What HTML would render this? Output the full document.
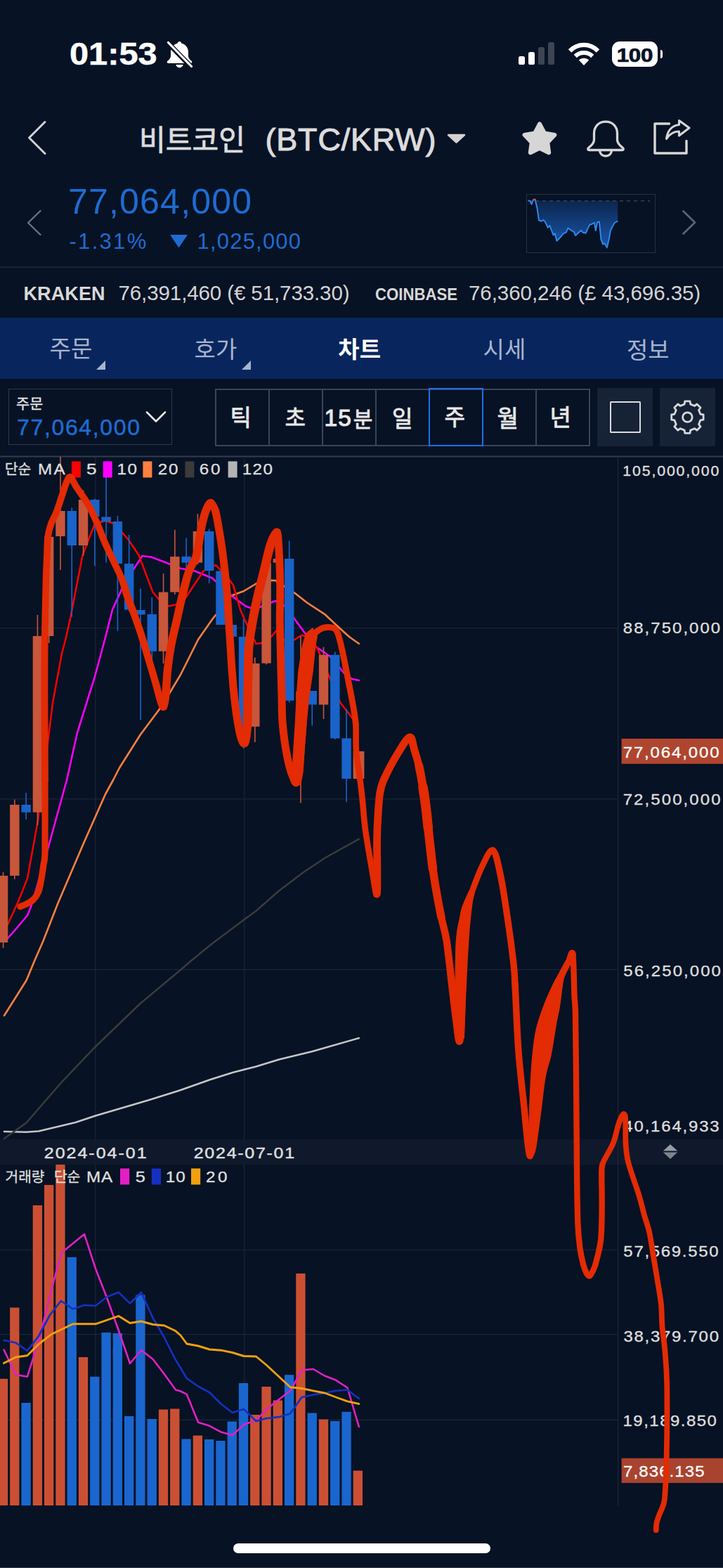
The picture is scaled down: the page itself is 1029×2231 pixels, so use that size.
<!DOCTYPE html><html><head><meta charset="utf-8"><title>BTC/KRW</title><style>

html,body{margin:0;padding:0;background:#071224;}
body{width:1029px;height:2231px;position:relative;overflow:hidden;font-family:"Liberation Sans",sans-serif;color:#ddd;}
.a{position:absolute;white-space:nowrap;line-height:1;}
.kr{position:absolute;overflow:visible;}
.kr text{font-family:"Liberation Sans","Noto Sans CJK KR",sans-serif;}
svg{display:block}

</style></head><body>
<div class="a" id="time" style="left:99.3px;top:54.5px;font-size:44.5px;font-weight:bold;color:#fff;letter-spacing:0px;transform:scaleX(1.095);transform-origin:0 0;-webkit-text-stroke:0.5px #fff">01:53</div>
<svg class="a" style="left:234px;top:56px" width="44" height="44" viewBox="0 0 44 44">
<path fill="#fff" d="M21.500 3c-1.500 0-2.600 1-2.800 2.400C13 7 9 11.800 9 18v6c0 2.500-2 4.600-4.600 6.800c-1.300 1.200-.6 3.200 1.200 3.200h31.800c1.800 0 2.500-2 1.200-3.200C36 28.600 34 26.500 34 24v-6c0-6.200-4-11-9.700-12.600C24.100 4 23 3 21.500 3zM16.300 36c.6 2.500 2.600 4.200 5.200 4.200s4.600-1.700 5.200-4.200z"/>
<path stroke="#071224" stroke-width="7" stroke-linecap="round" d="M5 5L38 39"/>
<path stroke="#fff" stroke-width="3.2" stroke-linecap="round" d="M5.500 4.500L38.500 38.500"/>
</svg>
<div class="a" style="left:738.0px;top:79.6px;width:9.4px;height:12.8px;background:#fff;border-radius:2.6px"></div>
<div class="a" style="left:751.8px;top:73.6px;width:9.4px;height:18.8px;background:#fff;border-radius:2.6px"></div>
<div class="a" style="left:765.9px;top:66.9px;width:9.4px;height:25.5px;background:#3d4554;border-radius:2.6px"></div>
<div class="a" style="left:779.8px;top:60.2px;width:9.4px;height:32.2px;background:#3d4554;border-radius:2.6px"></div>
<svg class="a" style="left:808px;top:59px" width="46" height="36" viewBox="0 0 46 36">
<path fill="none" stroke="#fff" stroke-width="6.2" d="M3 13.500C14 2 32 2 43 13.500"/>
<path fill="none" stroke="#fff" stroke-width="6" d="M10.800 21C17.500 14.400 28.500 14.400 35.200 21"/>
<path fill="#fff" d="M23 34L15.800 26.500C19.800 22.800 26.200 22.800 30.200 26.500z"/>
</svg>
<div class="a" style="left:871.4px;top:58.9px;width:64.8px;height:36.4px;background:#fff;border-radius:11px"></div>
<div class="a" style="left:939.500px;top:71.4px;width:3.6px;height:11.5px;background:#fff;border-radius:0 3px 3px 0"></div>
<div class="a" id="batt" style="left:871.4px;top:63.5px;width:64.8px;text-align:center;font-size:28.5px;font-weight:bold;color:#071224;letter-spacing:-0.3px;transform:scaleX(1.1);-webkit-text-stroke:0.7px #071224">100</div>
<svg class="a" style="left:36px;top:168px" width="34" height="56" viewBox="0 0 34 56"><path fill="none" stroke="#d2d2d2" stroke-width="3" stroke-linecap="round" stroke-linejoin="round" d="M28 5.500L5.500 28L28 50.500"/></svg>
<svg class="kr" style="left:203.1px;top:176.5px;width:156.7px;height:41.3px"><text x="-5" y="37.3" font-size="41" fill="#dcdcdc" stroke="#dcdcdc" stroke-width="0.8">비트코인</text></svg>
<div class="a" id="pair" style="left:377.5px;top:176.4px;font-size:45px;color:#dcdcdc;letter-spacing:0.8px;-webkit-text-stroke:1.0px #dcdcdc">(BTC/KRW)</div>
<svg class="a" style="left:635px;top:189px" width="29" height="17" viewBox="0 0 29 17"><path fill="#d2d2d2" stroke="#d2d2d2" stroke-width="2.5" stroke-linejoin="round" d="M3 3L26 3L14.500 13.500z"/></svg>
<svg class="a" style="left:739px;top:168px" width="58" height="57" viewBox="0 0 58 57"><path fill="#d6d6d6" stroke="#d6d6d6" stroke-width="6" stroke-linejoin="round" d="M29.0 8.5L35.9 21.5L50.4 24.0L40.2 34.6L42.2 49.2L29.0 42.8L15.8 49.2L17.8 34.6L7.6 24.0L22.1 21.5z"/></svg>
<svg class="a" style="left:833px;top:169px" width="58" height="57" viewBox="0 0 58 57"><path fill="none" stroke="#d6d6d6" stroke-width="3.3" stroke-linejoin="round" stroke-linecap="round" d="M29 4.200C19 4.200 12.500 11 12.500 21V30C12.500 34 9 38 4.500 41.500C3 43 3.800 44.500 5.500 44.500H52.500C54.200 44.500 55 43 53.500 41.500C49 38 45.500 34 45.500 30V21C45.500 11 39 4.200 29 4.200zM20.500 45.500C21 50 24.500 53 29 53S37 50 37.500 45.500"/></svg>
<svg class="a" style="left:928px;top:168px" width="58" height="54" viewBox="0 0 58 54"><path fill="none" stroke="#d6d6d6" stroke-width="3.4" stroke-linejoin="round" stroke-linecap="round" d="M24.500 8H4V50H49V32.500"/><path fill="none" stroke="#d6d6d6" stroke-width="3.1" stroke-linejoin="round" d="M38.500 3.500L53 14L38.500 25V19C30 19 25 22.500 20.500 29.500C22 18 28.500 10.500 38.500 9.500z"/></svg>
<svg class="a" style="left:35px;top:296px" width="28" height="42" viewBox="0 0 28 42"><path fill="none" stroke="#6b7383" stroke-width="2.400" stroke-linecap="round" stroke-linejoin="round" d="M22.500 4L5 21L22.500 38"/></svg>
<div class="a" id="price" style="left:97px;top:261.5px;font-size:50px;color:#1e6cd2;letter-spacing:1.2px">77,064,000</div>
<div class="a" id="pct" style="left:98.500px;top:327.5px;font-size:31px;color:#1e6cd2;letter-spacing:2.3px">-1.31%</div>
<svg class="a" style="left:241px;top:333px" width="27" height="20" viewBox="0 0 27 20"><path fill="#1e6cd2" d="M1 1H26L13.500 19.500z"/></svg>
<div class="a" id="chg" style="left:280.500px;top:327.5px;font-size:31px;color:#1e6cd2;letter-spacing:1.2px">1,025,000</div>
<svg class="a" style="left:967px;top:296px" width="28" height="42" viewBox="0 0 28 42"><path fill="none" stroke="#5d6676" stroke-width="2.600" stroke-linecap="round" stroke-linejoin="round" d="M5.500 4.500L22 20.500L5.500 36.500"/></svg>
<div class="a" style="left:749.3px;top:276.2px;width:181.500px;height:82px;border:1px solid #263145"></div>
<svg class="a" style="left:749.3px;top:276.2px" width="183" height="84" viewBox="0 0 183 84"><defs><linearGradient id="mg" x1="0" y1="0" x2="0" y2="1"><stop offset="0" stop-color="#0b244b"/><stop offset="1" stop-color="#1a58ad"/></linearGradient></defs>
<polygon fill="url(#mg)" points="2.5,9.8 2.5,9.3 5.3,9.9 7.6,14.6 9.8,8.5 12.6,7.9 15.4,19.7 17.9,37.1 21.0,38.8 24.4,37.1 26.7,39.4 30.6,47.8 33.4,45.0 38.5,58.5 40.7,56.2 43.5,66.9 48.3,61.8 53.1,56.2 56.7,54.8 59.5,48.4 64.3,52.0 67.9,54.0 70.2,59.0 73.6,55.7 77.8,52.0 80.6,54.8 84.8,55.7 87.6,49.2 90.4,43.6 93.2,43.0 96.9,40.8 98.8,52.0 101.1,40.2 103.9,39.4 106.4,64.6 109.2,71.7 111.5,70.3 114.9,76.4 117.7,64.6 119.9,52.0 122.7,46.4 125.5,41.3 130.3,38.5 130.3,9.8"/>
<line x1="3" y1="9.8" x2="176" y2="9.8" stroke="#3e4a5e" stroke-width="1.200" stroke-dasharray="5 5"/>
<polyline fill="none" stroke="#2f8af0" stroke-width="1.900" stroke-linejoin="round" points="2.5,9.3 5.3,9.9 7.6,14.6 9.8,8.5 12.6,7.9 15.4,19.7 17.9,37.1 21.0,38.8 24.4,37.1 26.7,39.4 30.6,47.8 33.4,45.0 38.5,58.5 40.7,56.2 43.5,66.9 48.3,61.8 53.1,56.2 56.7,54.8 59.5,48.4 64.3,52.0 67.9,54.0 70.2,59.0 73.6,55.7 77.8,52.0 80.6,54.8 84.8,55.7 87.6,49.2 90.4,43.6 93.2,43.0 96.9,40.8 98.8,52.0 101.1,40.2 103.9,39.4 106.4,64.6 109.2,71.7 111.5,70.3 114.9,76.4 117.7,64.6 119.9,52.0 122.7,46.4 125.5,41.3 130.3,38.5"/>
<rect x="9.6" y="6.7" width="4" height="2.400" fill="#e04040"/>
</svg>
<div class="a" style="left:0;top:379.3px;width:1029px;height:2px;background:#1a2434"></div>
<div class="a" id="krk" style="left:33.500px;top:405.2px;font-size:27px;font-weight:bold;color:#d8d8d8;letter-spacing:0.1px">KRAKEN</div>
<div class="a" id="krkv" style="left:168.500px;top:401.6px;font-size:29.5px;color:#d4d4d4;letter-spacing:-0.1px">76,391,460 (€ 51,733.30)</div>
<div class="a" id="cb" style="left:533.500px;top:406.5px;font-size:24.5px;font-weight:bold;color:#d8d8d8;transform:scaleX(0.905);transform-origin:0 0">COINBASE</div>
<div class="a" id="cbv" style="left:667px;top:401.6px;font-size:29.5px;color:#d4d4d4;letter-spacing:-0.05px">76,360,246 (£ 43,696.35)</div>
<div class="a" style="left:0;top:452px;width:1029px;height:87px;background:#08265d"></div>
<svg class="kr" style="left:71.7px;top:480.0px;width:61.6px;height:31.5px"><text x="-1.4" y="28.2" font-size="33" fill="#a9b4cd">주문</text></svg>
<svg class="kr" style="left:277.5px;top:479.5px;width:63.5px;height:32.5px"><text x="-1.4" y="29.3" font-size="33" fill="#a9b4cd">호가</text></svg>
<svg class="kr" style="left:482.5px;top:479.0px;width:63.5px;height:33.0px"><text x="-1.7" y="29.8" font-size="33" font-weight="bold" fill="#ffffff">차트</text></svg>
<svg class="kr" style="left:689.0px;top:479.5px;width:61.0px;height:32.5px"><text x="-1.4" y="29.3" font-size="33" fill="#a9b4cd">시세</text></svg>
<svg class="kr" style="left:894.0px;top:479.5px;width:62.500px;height:32.5px"><text x="-2" y="29.5" font-size="33" fill="#a9b4cd">정보</text></svg>
<svg class="a" style="left:137.3px;top:512.5px" width="13" height="13" viewBox="0 0 13 13"><path fill="#a9b4cd" d="M13 0V13H0z"/></svg>
<svg class="a" style="left:343.5px;top:512.5px" width="13" height="13" viewBox="0 0 13 13"><path fill="#a9b4cd" d="M13 0V13H0z"/></svg>
<div class="a" style="left:11.5px;top:552.5px;width:231.500px;height:78.500px;border:1.800px solid #2f394b"></div>
<svg class="kr" style="left:24.0px;top:564.0px;width:39.3px;height:20.0px"><text x="-0.9" y="17.9" font-size="20.7" fill="#e6e6e6" stroke="#e6e6e6" stroke-width="0.3">주문</text></svg>
<div class="a" id="ordp" style="left:24px;top:592px;font-size:32px;color:#1e6cd2;letter-spacing:1.65px;-webkit-text-stroke:0.5px #1e6cd2">77,064,000</div>
<svg class="a" style="left:205px;top:582px" width="34" height="22" viewBox="0 0 34 22"><path fill="none" stroke="#e6e6e6" stroke-width="2.600" stroke-linecap="round" stroke-linejoin="round" d="M4 4.500L17 17.500L30 4.500"/></svg>
<div class="a" style="left:305.5px;top:552.5px;width:530.500px;height:78px;border:2px solid #3b4557;box-sizing:content-box"></div>
<div class="a" style="left:381.6px;top:553px;width:2px;height:81px;background:#3b4557"></div>
<div class="a" style="left:457.8px;top:553px;width:2px;height:81px;background:#3b4557"></div>
<div class="a" style="left:534.0px;top:553px;width:2px;height:81px;background:#3b4557"></div>
<div class="a" style="left:610.1px;top:553px;width:2px;height:81px;background:#3b4557"></div>
<div class="a" style="left:686.2px;top:553px;width:2px;height:81px;background:#3b4557"></div>
<div class="a" style="left:762.4px;top:553px;width:2px;height:81px;background:#3b4557"></div>
<div class="a" style="left:609.5px;top:552px;width:74.500px;height:78.500px;border:2.300px solid #1b6ff0"></div>
<svg class="kr" style="left:331.7px;top:579.3px;width:25.6px;height:30.0px"><text x="-4.5" y="26.9" font-size="33" fill="#e8e8e8" stroke="#e8e8e8" stroke-width="0.8">틱</text></svg>
<svg class="kr" style="left:406.7px;top:579.3px;width:28.3px;height:27.4px"><text x="-1.4" y="27" font-size="32" fill="#e8e8e8" stroke="#e8e8e8" stroke-width="0.8">초</text></svg>
<div class="a" id="m15" style="left:461.5px;top:577.5px;font-size:33.5px;color:#e8e8e8;letter-spacing:1.2px;-webkit-text-stroke:1.1px #e8e8e8">15</div>
<svg class="kr" style="left:504.0px;top:580.0px;width:26.0px;height:29.3px"><text x="-1.3" y="27.2" font-size="30" fill="#e8e8e8" stroke="#e8e8e8" stroke-width="0.8">분</text></svg>
<svg class="kr" style="left:560.7px;top:579.3px;width:25.3px;height:30.0px"><text x="-3.1" y="27.5" font-size="32" fill="#e8e8e8" stroke="#e8e8e8" stroke-width="0.8">일</text></svg>
<svg class="kr" style="left:633.5px;top:579.3px;width:29.5px;height:28.5px"><text x="-1.4" y="25.6" font-size="32" fill="#e8e8e8" stroke="#e8e8e8" stroke-width="0.8">주</text></svg>
<svg class="kr" style="left:710.0px;top:577.5px;width:28.0px;height:32.0px"><text x="-2.5" y="29.3" font-size="33" fill="#e8e8e8" stroke="#e8e8e8" stroke-width="0.8">월</text></svg>
<svg class="kr" style="left:787.0px;top:579.3px;width:27.0px;height:29.5px"><text x="-4.5" y="27.4" font-size="33" fill="#e8e8e8" stroke="#e8e8e8" stroke-width="0.8">년</text></svg>
<div class="a" style="left:850px;top:551.7px;width:78.700px;height:83.300px;background:#162236"></div>
<div class="a" style="left:867.5px;top:571px;width:40.500px;height:40.500px;border:2.400px solid #dcdcdc;border-radius:1.500px"></div>
<div class="a" style="left:939.3px;top:551.7px;width:78.400px;height:83.300px;background:#162236"></div>
<svg class="a" style="left:939.3px;top:551.7px" width="79" height="84" viewBox="0 0 79 84"><path fill="none" stroke="#d8d8d8" stroke-width="2.800" stroke-linejoin="round" d="M35.8 18.9L43.0 18.9L43.7 23.1L49.5 25.5L52.9 23.0L58.0 28.1L55.5 31.5L57.9 37.3L62.1 38.0L62.1 45.2L57.9 45.9L55.5 51.7L58.0 55.1L52.9 60.2L49.5 57.7L43.7 60.1L43.0 64.3L35.8 64.3L35.1 60.1L29.3 57.7L25.9 60.2L20.8 55.1L23.3 51.7L20.9 45.9L16.7 45.2L16.7 38.0L20.9 37.3L23.3 31.5L20.8 28.1L25.9 23.0L29.3 25.5L35.1 23.1z"/><circle cx="39.4" cy="41.6" r="6.8" fill="none" stroke="#d8d8d8" stroke-width="2.800"/></svg><svg class="a" style="left:0;top:0" width="1029" height="2231" viewBox="0 0 1029 2231" font-family="Liberation Sans, sans-serif">
<rect x="0" y="648.5" width="1029" height="2" fill="#333d4e"/>
<rect x="0" y="1620.7" width="1029" height="36.5" fill="#0f192b"/>
<rect x="0" y="893.1" width="879" height="1.3" fill="#1b2535"/>
<rect x="0" y="1136.2" width="879" height="1.3" fill="#1b2535"/>
<rect x="0" y="1378.9" width="879" height="1.3" fill="#1b2535"/>
<rect x="0" y="1777.6" width="879" height="1.3" fill="#1b2535"/>
<rect x="0" y="1897.9" width="879" height="1.3" fill="#1b2535"/>
<rect x="0" y="2019.7" width="879" height="1.3" fill="#1b2535"/>
<rect x="135.3" y="650" width="1.3" height="971" fill="#1b2535"/>
<rect x="135.3" y="1657" width="1.3" height="485" fill="#1b2535"/>
<rect x="347.1" y="650" width="1.3" height="971" fill="#1b2535"/>
<rect x="347.1" y="1657" width="1.3" height="485" fill="#1b2535"/>
<rect x="878.9" y="650" width="1.4" height="1492" fill="#1b2535"/>
<rect x="-2.15" y="1961.8" width="13.3" height="180.2" fill="#cb5033"/>
<rect x="14.14" y="1860.5" width="13.3" height="281.5" fill="#cb5033"/>
<rect x="30.42" y="1996.0" width="13.3" height="146.0" fill="#1a66cf"/>
<rect x="46.70" y="1715.0" width="13.3" height="427.0" fill="#cb5033"/>
<rect x="62.99" y="1686.0" width="13.3" height="456.0" fill="#cb5033"/>
<rect x="79.27" y="1657.0" width="13.3" height="485.0" fill="#cb5033"/>
<rect x="95.56" y="1788.8" width="13.3" height="353.2" fill="#1a66cf"/>
<rect x="111.84" y="1931.0" width="13.3" height="211.0" fill="#cb5033"/>
<rect x="128.13" y="1958.8" width="13.3" height="183.2" fill="#1a66cf"/>
<rect x="144.42" y="1896.0" width="13.3" height="246.0" fill="#1a66cf"/>
<rect x="160.70" y="1897.0" width="13.3" height="245.0" fill="#1a66cf"/>
<rect x="176.99" y="2015.0" width="13.3" height="127.0" fill="#1a66cf"/>
<rect x="193.27" y="1842.5" width="13.3" height="299.5" fill="#1a66cf"/>
<rect x="209.56" y="2019.0" width="13.3" height="123.0" fill="#1a66cf"/>
<rect x="225.84" y="2005.5" width="13.3" height="136.5" fill="#cb5033"/>
<rect x="242.13" y="2004.5" width="13.3" height="137.5" fill="#cb5033"/>
<rect x="258.41" y="2047.5" width="13.3" height="94.5" fill="#1a66cf"/>
<rect x="274.70" y="2042.5" width="13.3" height="99.5" fill="#cb5033"/>
<rect x="290.98" y="2048.0" width="13.3" height="94.0" fill="#1a66cf"/>
<rect x="307.27" y="2050.0" width="13.3" height="92.0" fill="#1a66cf"/>
<rect x="323.55" y="2022.5" width="13.3" height="119.5" fill="#1a66cf"/>
<rect x="339.84" y="1968.0" width="13.3" height="174.0" fill="#1a66cf"/>
<rect x="356.12" y="2013.0" width="13.3" height="129.0" fill="#cb5033"/>
<rect x="372.41" y="1973.0" width="13.3" height="169.0" fill="#cb5033"/>
<rect x="388.69" y="1992.5" width="13.3" height="149.5" fill="#cb5033"/>
<rect x="404.98" y="1956.2" width="13.3" height="185.8" fill="#1a66cf"/>
<rect x="421.26" y="1812.0" width="13.3" height="330.0" fill="#cb5033"/>
<rect x="437.55" y="2010.5" width="13.3" height="131.5" fill="#1a66cf"/>
<rect x="453.83" y="2019.5" width="13.3" height="122.5" fill="#cb5033"/>
<rect x="470.12" y="2022.0" width="13.3" height="120.0" fill="#1a66cf"/>
<rect x="486.40" y="2008.8" width="13.3" height="133.2" fill="#1a66cf"/>
<rect x="502.69" y="2092.5" width="13.3" height="49.5" fill="#cb5033"/>
<polyline fill="none" stroke="#c6c6c6" stroke-width="2.6" stroke-linejoin="round" stroke-linecap="round" points="6.0,1610.0 37.5,1610.8 55.0,1609.5 107.5,1597.0 136.0,1587.5 212.5,1565.0 257.0,1551.0 299.5,1536.0 332.0,1525.8 364.5,1517.5 397.0,1507.5 444.5,1496.0 510.8,1477.0"/>
<polyline fill="none" stroke="#3b3b3b" stroke-width="2.5" stroke-linejoin="round" stroke-linecap="round" points="6.0,1620.0 37.5,1597.5 87.5,1540.0 135.0,1490.0 200.0,1427.5 257.0,1380.0 272.0,1367.0 302.0,1342.5 347.0,1308.8 364.5,1296.0 397.0,1267.5 432.0,1241.0 462.0,1221.0 510.8,1193.8"/>
<polyline fill="none" stroke="#ff8040" stroke-width="2.6" stroke-linejoin="round" stroke-linecap="round" points="6.0,1445.0 37.5,1395.0 50.0,1365.0 61.0,1340.0 82.5,1285.0 120.0,1197.5 150.0,1130.0 161.0,1110.0 170.0,1092.5 200.0,1045.0 230.0,1005.0 257.0,960.0 282.0,910.0 303.0,880.0 329.5,847.5 347.0,841.0 367.0,829.0 387.0,825.8 392.0,826.0 419.5,843.8 437.0,857.5 462.0,873.8 482.0,892.5 497.0,906.0 510.8,915.8"/>
<polyline fill="none" stroke="#ff00ff" stroke-width="2.6" stroke-linejoin="round" stroke-linecap="round" points="9.0,1337.0 10.0,1336.0 20.0,1325.0 39.0,1302.5 45.0,1287.5 67.5,1210.0 95.0,1110.0 110.0,1042.5 135.0,962.5 150.0,907.0 160.0,867.5 172.5,840.0 190.0,810.0 202.5,791.0 215.0,792.5 235.0,800.0 257.0,808.8 277.0,812.5 302.0,822.5 329.5,847.5 349.5,862.5 362.0,867.0 392.0,855.0 405.0,862.0 419.5,881.0 437.0,905.0 449.5,920.0 469.5,933.8 489.5,957.5 500.8,966.0 510.8,968.0"/>
<polyline fill="none" stroke="#ff0000" stroke-width="2.5" stroke-linejoin="round" stroke-linecap="round" points="10.0,1317.0 11.0,1315.0 25.0,1285.0 39.0,1250.0 54.0,1167.5 60.0,1110.0 67.0,1065.0 75.0,1000.0 88.0,930.0 94.0,907.0 100.0,880.0 117.5,790.0 135.0,745.0 150.0,741.0 162.5,745.0 182.5,767.5 197.5,790.0 217.5,842.5 226.0,852.5 240.0,862.5 257.0,858.8 264.5,850.0 289.5,812.5 307.0,803.8 324.5,822.5 332.0,832.5 342.0,867.5 352.0,890.0 364.5,916.0 372.0,915.0 387.0,905.0 393.0,897.5 408.0,915.0 419.5,910.0 429.5,903.8 437.0,906.0 451.0,921.0 469.5,965.0 484.5,1000.0 502.0,1022.5"/>
<rect x="3.75" y="1241.0" width="1.6" height="108.0" fill="#c8563a"/>
<rect x="-2.15" y="1246.0" width="13.4" height="95.0" fill="#c8563a"/>
<rect x="20.04" y="1137.5" width="1.6" height="113.5" fill="#c8563a"/>
<rect x="14.14" y="1145.0" width="13.4" height="101.0" fill="#c8563a"/>
<rect x="36.32" y="1128.0" width="1.6" height="38.0" fill="#1963c9"/>
<rect x="30.42" y="1145.0" width="13.4" height="10.8" fill="#1963c9"/>
<rect x="52.61" y="875.0" width="1.6" height="299.0" fill="#c8563a"/>
<rect x="46.70" y="905.0" width="13.4" height="250.8" fill="#c8563a"/>
<rect x="68.89" y="745.0" width="1.6" height="170.0" fill="#c8563a"/>
<rect x="62.99" y="763.8" width="13.4" height="141.2" fill="#c8563a"/>
<rect x="85.17" y="650.0" width="1.6" height="161.0" fill="#c8563a"/>
<rect x="79.27" y="727.0" width="13.4" height="36.0" fill="#c8563a"/>
<rect x="101.46" y="722.5" width="1.6" height="155.0" fill="#1963c9"/>
<rect x="95.56" y="727.0" width="13.4" height="49.0" fill="#1963c9"/>
<rect x="117.75" y="697.5" width="1.6" height="93.5" fill="#c8563a"/>
<rect x="111.84" y="711.0" width="13.4" height="65.0" fill="#c8563a"/>
<rect x="134.03" y="709.5" width="1.6" height="96.0" fill="#1963c9"/>
<rect x="128.13" y="711.0" width="13.4" height="24.0" fill="#1963c9"/>
<rect x="150.31" y="675.0" width="1.6" height="125.5" fill="#1963c9"/>
<rect x="144.42" y="735.5" width="13.4" height="6.5" fill="#1963c9"/>
<rect x="166.60" y="733.8" width="1.6" height="163.8" fill="#1963c9"/>
<rect x="160.70" y="742.0" width="13.4" height="60.0" fill="#1963c9"/>
<rect x="182.88" y="761.0" width="1.6" height="109.0" fill="#1963c9"/>
<rect x="176.99" y="802.0" width="13.4" height="65.5" fill="#1963c9"/>
<rect x="199.17" y="837.5" width="1.6" height="187.0" fill="#1963c9"/>
<rect x="193.27" y="868.0" width="13.4" height="6.5" fill="#1963c9"/>
<rect x="215.46" y="850.0" width="1.6" height="94.0" fill="#1963c9"/>
<rect x="209.56" y="874.0" width="13.4" height="52.8" fill="#1963c9"/>
<rect x="231.74" y="816.0" width="1.6" height="128.0" fill="#c8563a"/>
<rect x="225.84" y="842.5" width="13.4" height="84.2" fill="#c8563a"/>
<rect x="248.03" y="753.8" width="1.6" height="92.2" fill="#c8563a"/>
<rect x="242.13" y="792.0" width="13.4" height="50.5" fill="#c8563a"/>
<rect x="264.31" y="765.5" width="1.6" height="47.0" fill="#1963c9"/>
<rect x="258.41" y="791.8" width="13.4" height="8.8" fill="#1963c9"/>
<rect x="280.60" y="731.0" width="1.6" height="72.0" fill="#c8563a"/>
<rect x="274.70" y="756.0" width="13.4" height="44.5" fill="#c8563a"/>
<rect x="296.88" y="752.5" width="1.6" height="77.5" fill="#1963c9"/>
<rect x="290.98" y="756.0" width="13.4" height="56.0" fill="#1963c9"/>
<rect x="313.17" y="812.0" width="1.6" height="77.0" fill="#1963c9"/>
<rect x="307.27" y="812.5" width="13.4" height="76.5" fill="#1963c9"/>
<rect x="329.45" y="883.8" width="1.6" height="22.2" fill="#1963c9"/>
<rect x="323.55" y="889.0" width="13.4" height="16.8" fill="#1963c9"/>
<rect x="345.74" y="881.0" width="1.6" height="184.0" fill="#1963c9"/>
<rect x="339.84" y="906.0" width="13.4" height="127.8" fill="#1963c9"/>
<rect x="362.02" y="935.5" width="1.6" height="120.5" fill="#c8563a"/>
<rect x="356.12" y="944.0" width="13.4" height="89.8" fill="#c8563a"/>
<rect x="378.31" y="800.0" width="1.6" height="145.5" fill="#c8563a"/>
<rect x="372.41" y="800.5" width="13.4" height="143.2" fill="#c8563a"/>
<rect x="394.59" y="795.0" width="1.6" height="5.5" fill="#c8563a"/>
<rect x="388.69" y="795.0" width="13.4" height="5.5" fill="#c8563a"/>
<rect x="410.88" y="769.5" width="1.6" height="230.0" fill="#1963c9"/>
<rect x="404.98" y="795.0" width="13.4" height="201.8" fill="#1963c9"/>
<rect x="427.16" y="905.0" width="1.6" height="237.5" fill="#c8563a"/>
<rect x="421.26" y="983.8" width="13.4" height="13.0" fill="#c8563a"/>
<rect x="443.44" y="983.0" width="1.6" height="49.5" fill="#1963c9"/>
<rect x="437.55" y="983.0" width="13.4" height="19.5" fill="#1963c9"/>
<rect x="459.73" y="920.5" width="1.6" height="102.5" fill="#c8563a"/>
<rect x="453.83" y="931.8" width="13.4" height="70.8" fill="#c8563a"/>
<rect x="476.01" y="927.5" width="1.6" height="124.5" fill="#1963c9"/>
<rect x="470.12" y="931.8" width="13.4" height="118.8" fill="#1963c9"/>
<rect x="492.30" y="1008.8" width="1.6" height="132.2" fill="#1963c9"/>
<rect x="486.40" y="1050.5" width="13.4" height="57.5" fill="#1963c9"/>
<rect x="502.6" y="1069" width="15.8" height="39" fill="#c8563a"/>
<polyline fill="none" stroke="#e21fc4" stroke-width="2.6" stroke-linejoin="round" stroke-linecap="round" points="5.5,1920.5 22.5,1956.0 38.8,1958.8 56.0,1905.0 72.5,1837.5 87.5,1782.5 120.0,1756.0 136.0,1805.0 152.5,1847.5 168.8,1893.0 185.0,1940.0 201.0,1921.0 217.5,1933.8 233.8,1955.0 250.0,1977.5 257.0,1979.5 265.8,1983.8 282.0,2023.8 298.2,2028.8 314.5,2037.5 330.8,2042.0 348.2,2026.2 364.5,2021.2 379.5,2005.0 397.0,1991.2 413.2,1978.8 429.5,1949.5 445.8,1948.0 462.0,1957.5 478.2,1963.8 494.5,1974.5 510.8,2030.0"/>
<polyline fill="none" stroke="#1530bf" stroke-width="2.7" stroke-linejoin="round" stroke-linecap="round" points="5.5,1907.0 22.5,1910.5 38.8,1921.8 55.0,1901.0 71.0,1871.0 86.8,1851.0 103.8,1862.5 120.0,1857.0 136.0,1858.0 152.5,1845.0 168.8,1838.8 185.0,1854.5 201.0,1838.8 217.5,1875.0 233.8,1903.0 250.0,1935.0 257.0,1946.2 265.8,1961.2 282.0,1972.5 298.2,1981.2 314.5,1997.5 330.8,2010.0 347.0,2005.0 364.5,2022.0 379.5,2018.0 397.0,2016.2 413.2,2011.2 429.5,1988.0 445.8,1984.5 462.0,1982.0 478.2,1978.8 494.5,1977.5 510.8,1990.0"/>
<polyline fill="none" stroke="#f0a010" stroke-width="2.9" stroke-linejoin="round" stroke-linecap="round" points="5.5,1939.5 22.5,1931.0 38.8,1928.8 55.0,1912.5 72.5,1898.8 103.8,1883.8 136.0,1883.8 168.8,1872.5 185.0,1882.5 201.0,1880.0 217.5,1884.5 233.8,1886.0 250.0,1893.8 257.0,1900.0 265.8,1912.0 282.0,1915.0 298.2,1920.0 314.5,1921.2 330.8,1924.5 347.0,1929.5 364.5,1930.0 379.5,1942.5 397.0,1958.8 413.2,1973.8 429.5,1975.5 445.8,1978.8 462.0,1982.0 478.2,1988.0 494.5,1993.8 510.8,1997.5"/>
<rect x="101.9" y="656.4" width="13" height="23.1" fill="#ff0000"/>
<rect x="146.7" y="656.4" width="13" height="23.1" fill="#ff00ff"/>
<rect x="203.4" y="656.4" width="13" height="23.1" fill="#ff8040"/>
<rect x="263.4" y="656.4" width="13" height="23.1" fill="#3b3b3b"/>
<rect x="324.6" y="656.4" width="13" height="23.1" fill="#b4b4b4"/>
<rect x="171.0" y="1662.5" width="13.2" height="23" fill="#e21fc4"/>
<rect x="215.8" y="1662.5" width="13.2" height="23" fill="#1530bf"/>
<rect x="272.0" y="1662.5" width="13.2" height="23" fill="#f0a010"/>
<text transform="translate(56.00 675.4) scale(1.100 1)" x="-1.80" y="0" font-size="22" letter-spacing="2.03" fill="#dedede" stroke="#dedede" stroke-width="0.35" font-weight="normal">MA</text>
<text transform="translate(124.10 675.4) scale(1.189 1)" x="-0.88" y="0" font-size="22" letter-spacing="0.00" fill="#dedede" stroke="#dedede" stroke-width="0.35" font-weight="normal">5</text>
<text transform="translate(168.40 675.4) scale(1.100 1)" x="-1.68" y="0" font-size="22" letter-spacing="1.34" fill="#dedede" stroke="#dedede" stroke-width="0.35" font-weight="normal">10</text>
<text transform="translate(226.00 675.4) scale(1.100 1)" x="-1.11" y="0" font-size="22" letter-spacing="1.50" fill="#dedede" stroke="#dedede" stroke-width="0.35" font-weight="normal">20</text>
<text transform="translate(285.00 675.4) scale(1.100 1)" x="-1.12" y="0" font-size="22" letter-spacing="2.51" fill="#dedede" stroke="#dedede" stroke-width="0.35" font-weight="normal">60</text>
<text transform="translate(346.50 675.4) scale(1.100 1)" x="-1.68" y="0" font-size="22" letter-spacing="1.32" fill="#dedede" stroke="#dedede" stroke-width="0.35" font-weight="normal">120</text>
<text transform="translate(125.00 1681.7) scale(1.100 1)" x="-1.80" y="0" font-size="22" letter-spacing="0.67" fill="#dedede" stroke="#dedede" stroke-width="0.35" font-weight="normal">MA</text>
<text transform="translate(193.75 1681.7) scale(1.155 1)" x="-0.88" y="0" font-size="22" letter-spacing="0.00" fill="#dedede" stroke="#dedede" stroke-width="0.35" font-weight="normal">5</text>
<text transform="translate(237.50 1681.7) scale(1.100 1)" x="-1.68" y="0" font-size="22" letter-spacing="1.06" fill="#dedede" stroke="#dedede" stroke-width="0.35" font-weight="normal">10</text>
<text transform="translate(294.30 1681.7) scale(1.100 1)" x="-1.11" y="0" font-size="22" letter-spacing="3.13" fill="#dedede" stroke="#dedede" stroke-width="0.35" font-weight="normal">20</text>
<text transform="translate(64.00 1648.0) scale(1.120 1)" x="-1.12" y="0" font-size="22.3" letter-spacing="1.81" fill="#dedede" stroke="#dedede" stroke-width="0.5" font-weight="normal">2024-04-01</text>
<text transform="translate(277.00 1648.0) scale(1.120 1)" x="-1.12" y="0" font-size="22.3" letter-spacing="1.56" fill="#dedede" stroke="#dedede" stroke-width="0.5" font-weight="normal">2024-07-01</text>
<text transform="translate(887.90 677.2) scale(1.080 1)" x="-1.51" y="0" font-size="19.8" letter-spacing="1.69" fill="#dedede" stroke="#dedede" stroke-width="0.35" font-weight="normal">105,000,000</text>
<text transform="translate(887.90 901.3) scale(1.120 1)" x="-0.93" y="0" font-size="21.4" letter-spacing="1.82" fill="#dedede" stroke="#dedede" stroke-width="0.35" font-weight="normal">88,750,000</text>
<text transform="translate(887.90 1145.0) scale(1.120 1)" x="-1.10" y="0" font-size="21.4" letter-spacing="1.87" fill="#dedede" stroke="#dedede" stroke-width="0.35" font-weight="normal">72,500,000</text>
<text transform="translate(888.20 1388.6) scale(1.120 1)" x="-0.86" y="0" font-size="21.4" letter-spacing="1.86" fill="#dedede" stroke="#dedede" stroke-width="0.35" font-weight="normal">56,250,000</text>
<text transform="translate(887.90 1610.4) scale(1.120 1)" x="-0.49" y="0" font-size="21.4" letter-spacing="1.62" fill="#dedede" stroke="#dedede" stroke-width="0.35" font-weight="normal">40,164,933</text>
<text transform="translate(888.30 1788.3) scale(1.120 1)" x="-0.86" y="0" font-size="21.4" letter-spacing="1.52" fill="#dedede" stroke="#dedede" stroke-width="0.35" font-weight="normal">57,569.550</text>
<text transform="translate(888.30 1908.6) scale(1.120 1)" x="-0.82" y="0" font-size="21.4" letter-spacing="1.55" fill="#dedede" stroke="#dedede" stroke-width="0.35" font-weight="normal">38,379.700</text>
<text transform="translate(888.30 2029.4) scale(1.120 1)" x="-1.63" y="0" font-size="21.4" letter-spacing="1.34" fill="#dedede" stroke="#dedede" stroke-width="0.35" font-weight="normal">19,189.850</text>
<rect x="884.6" y="1051" width="145" height="35.8" fill="#b0452f"/>
<text transform="translate(887.90 1077.6) scale(1.120 1)" x="-1.10" y="0" font-size="21.4" letter-spacing="1.67" fill="#ffffff" stroke="#ffffff" stroke-width="0.35" font-weight="normal">77,064,000</text>
<rect x="884.6" y="2074.8" width="145" height="35.2" fill="#a8432f"/>
<text transform="translate(888.30 2100.7) scale(1.120 1)" x="-1.10" y="0" font-size="21.4" letter-spacing="0.99" fill="#ffffff" stroke="#ffffff" stroke-width="0.35" font-weight="normal">7,836.135</text>
<path fill="#969ba6" d="M943.8 1637.4L954 1628.2L964.3 1637.4z"/><path fill="#7d838f" d="M943.8 1639.6L954 1649L964.3 1639.6z"/>
<path fill="none" stroke="#e32b04" stroke-width="9.2" stroke-linecap="round" stroke-linejoin="round" d="M29.0 1290.0C30.5 1289.3 34.9 1287.7 38.0 1286.0C41.1 1284.3 44.7 1283.0 47.5 1280.0C50.3 1277.0 53.1 1273.0 55.0 1268.0C56.9 1263.0 57.8 1256.3 59.0 1250.0C60.2 1243.7 61.2 1236.7 62.0 1230.0C62.8 1223.3 63.7 1230.0 64.0 1210.0C64.3 1190.0 64.1 1146.5 64.0 1110.0"/>
<path fill="none" stroke="#e32b04" stroke-width="9.8" stroke-linecap="round" stroke-linejoin="round" d="M64.0 1110.0C63.9 1073.5 63.4 1024.0 63.4 991.0C63.4 958.0 63.4 939.7 63.7 912.0"/>
<path fill="none" stroke="#e32b04" stroke-width="9.6" stroke-linecap="round" stroke-linejoin="round" d="M63.7 912.0C64.0 884.3 65.0 845.3 65.5 825.0C66.0 804.7 66.5 800.2 66.9 790.0C67.3 779.8 67.2 771.3 68.1 764.0C69.0 756.7 70.5 751.9 72.5 746.0C74.5 740.1 77.5 736.0 80.3 728.7C83.1 721.5 86.6 709.8 89.1 702.5C91.6 695.2 93.3 688.9 95.2 685.0C97.1 681.1 98.2 677.5 100.5 679.0C102.8 680.5 104.8 686.9 109.2 693.7C113.6 700.5 121.8 711.2 126.7 720.0C131.7 728.8 135.1 737.5 138.9 746.2C142.7 754.9 145.6 763.6 149.4 772.4C153.2 781.1 157.6 789.9 161.7 798.7C165.8 807.5 170.7 816.8 173.9 825.0"/>
<path fill="none" stroke="#e32b04" stroke-width="10.3" stroke-linecap="round" stroke-linejoin="round" d="M173.9 825.0C177.1 833.2 178.7 841.2 181.0 848.0C183.3 854.8 184.8 857.3 188.0 866.0C191.2 874.7 196.2 888.5 200.0 900.0C203.8 911.5 207.1 923.3 210.6 935.0C214.1 946.7 218.1 959.8 221.0 970.0C223.9 980.2 226.1 990.1 228.0 996.0C229.9 1001.9 231.2 1007.0 232.5 1005.5"/>
<path fill="none" stroke="#e32b04" stroke-width="11.5" stroke-linecap="round" stroke-linejoin="round" d="M232.5 1005.5C233.8 1004.0 235.0 995.9 236.0 987.0C237.0 978.1 237.3 963.7 238.6 952.0C239.9 940.3 241.6 928.7 243.8 917.0C246.0 905.3 249.1 893.7 251.7 882.0C254.3 870.3 256.7 858.7 259.6 847.0C262.5 835.3 266.1 820.7 269.2 812.0C272.3 803.3 275.8 800.8 278.0 795.0C280.2 789.2 281.1 782.8 282.3 777.0C283.5 771.2 284.0 765.8 285.0 760.0C286.0 754.2 286.9 748.3 288.4 742.5C289.8 736.7 291.8 729.5 293.7 725.0C295.6 720.5 297.8 715.4 299.8 715.4"/>
<path fill="none" stroke="#e32b04" stroke-width="11" stroke-linecap="round" stroke-linejoin="round" d="M299.8 715.4C301.8 715.4 304.2 720.5 305.9 725.0C307.6 729.5 308.2 733.8 309.8 742.5C311.4 751.2 313.8 765.4 315.5 777.0C317.2 788.6 318.6 800.3 319.9 812.0C321.2 823.7 322.5 835.3 323.4 847.0C324.3 858.7 324.8 870.3 325.5 882.0C326.2 893.7 327.1 905.3 327.8 917.0C328.6 928.7 329.1 940.3 330.0 952.0C330.9 963.7 331.8 975.3 333.0 987.0C334.2 998.7 335.8 1011.8 337.4 1022.0C339.0 1032.2 340.8 1042.7 342.6 1048.5C344.4 1054.3 346.4 1060.1 348.0 1057.0"/>
<path fill="none" stroke="#e32b04" stroke-width="12.6" stroke-linecap="round" stroke-linejoin="round" d="M348.0 1057.0C349.6 1053.9 351.2 1041.2 352.0 1030.0C352.8 1018.8 352.3 1001.0 352.5 990.0C352.7 979.0 352.7 975.8 353.0 964.0C353.3 952.2 353.2 932.5 354.3 919.0C355.4 905.5 357.6 894.8 359.7 883.0C361.8 871.2 364.2 859.8 366.9 848.0C369.6 836.2 372.9 824.0 375.9 812.0C378.9 800.0 381.8 785.1 384.8 776.0C387.8 766.9 391.9 757.5 393.8 757.5"/>
<path fill="none" stroke="#e32b04" stroke-width="11" stroke-linecap="round" stroke-linejoin="round" d="M393.8 757.5C395.8 757.5 395.8 766.9 396.5 776.0C397.2 785.1 397.9 800.0 398.3 812.0C398.7 824.0 398.8 836.2 398.8 848.0"/>
<path fill="none" stroke="#e32b04" stroke-width="11" stroke-linecap="round" stroke-linejoin="round" d="M398.8 848.0C398.8 859.8 398.2 871.2 398.3 883.0C398.4 894.8 398.9 907.0 399.2 919.0C399.5 931.0 399.7 943.0 400.0 955.0C400.3 967.0 400.7 979.0 401.0 991.0C401.3 1003.0 401.1 1015.0 402.0 1027.0C402.9 1039.0 404.7 1052.5 406.3 1063.0C407.9 1073.5 409.9 1082.8 411.7 1090.0C413.5 1097.2 415.4 1102.1 417.0 1106.0C418.6 1109.9 420.1 1114.8 421.6 1113.5"/>
<path fill="none" stroke="#e32b04" stroke-width="11" stroke-linecap="round" stroke-linejoin="round" d="M421.6 1113.5C423.1 1112.2 424.9 1106.9 426.0 1098.0C427.1 1089.1 427.7 1071.3 428.5 1060.0C429.3 1048.7 429.8 1047.5 431.0 1030.0C432.2 1012.5 434.2 974.7 436.0 955.0C437.8 935.3 438.9 921.8 442.0 912.0"/>
<path fill="none" stroke="#e32b04" stroke-width="8.8" stroke-linecap="round" stroke-linejoin="round" d="M442.0 912.0C445.1 902.2 449.9 899.2 454.5 896.0C459.1 892.8 465.3 892.1 469.5 892.5C473.7 892.9 476.6 893.1 479.5 898.5C482.4 903.9 484.1 912.2 487.0 925.0C489.9 937.8 494.5 962.5 497.0 975.0"/>
<path fill="none" stroke="#e32b04" stroke-width="8.8" stroke-linecap="round" stroke-linejoin="round" d="M497.0 975.0C499.5 987.5 500.2 990.8 501.8 1000.0C503.4 1009.2 505.4 1018.5 506.3 1030.0"/>
<path fill="none" stroke="#e32b04" stroke-width="8.6" stroke-linecap="round" stroke-linejoin="round" d="M506.3 1030.0C507.2 1041.5 506.0 1056.0 507.0 1069.0C508.0 1082.0 510.8 1096.7 512.3 1108.0C513.8 1119.3 514.4 1125.0 515.7 1137.0C517.0 1149.0 517.8 1164.0 519.9 1180.0C522.0 1196.0 525.9 1217.7 528.6 1233.0C531.4 1248.3 535.1 1278.5 536.4 1272.0"/>
<path fill="none" stroke="#e32b04" stroke-width="10.8" stroke-linecap="round" stroke-linejoin="round" d="M536.4 1272.0C537.7 1265.5 536.3 1212.7 536.6 1194.0C536.9 1175.3 537.4 1170.7 538.0 1160.0C538.6 1149.3 539.2 1138.3 540.5 1130.0C541.8 1121.7 541.8 1119.5 546.0 1110.0C550.2 1100.5 559.3 1083.2 565.5 1073.0C571.7 1062.8 579.0 1050.2 583.0 1049.0C587.0 1047.8 587.3 1059.3 589.5 1066.0C591.7 1072.7 594.1 1080.4 596.2 1089.4"/>
<path fill="none" stroke="#e32b04" stroke-width="12" stroke-linecap="round" stroke-linejoin="round" d="M596.2 1089.4C598.3 1098.4 600.3 1109.9 602.0 1120.0"/>
<path fill="none" stroke="#e32b04" stroke-width="13.6" stroke-linecap="round" stroke-linejoin="round" d="M602.0 1120.0C603.7 1130.1 605.1 1140.3 606.3 1150.0C607.5 1159.7 608.3 1168.8 609.3 1178.0"/>
<path fill="none" stroke="#e32b04" stroke-width="12.6" stroke-linecap="round" stroke-linejoin="round" d="M609.3 1178.0C610.3 1187.2 611.2 1195.3 612.3 1205.0C613.4 1214.7 614.6 1226.0 616.0 1236.0"/>
<path fill="none" stroke="#e32b04" stroke-width="11.4" stroke-linecap="round" stroke-linejoin="round" d="M616.0 1236.0C617.4 1246.0 618.5 1253.5 620.5 1265.0C622.5 1276.5 625.5 1292.8 628.0 1305.0"/>
<path fill="none" stroke="#e32b04" stroke-width="10.4" stroke-linecap="round" stroke-linejoin="round" d="M628.0 1305.0C630.5 1317.2 633.0 1322.2 635.5 1338.0C638.0 1353.8 640.8 1381.3 643.0 1400.0C645.2 1418.7 647.1 1436.5 649.0 1450.0C650.9 1463.5 652.8 1486.4 654.3 1480.8"/>
<path fill="none" stroke="#e32b04" stroke-width="10" stroke-linecap="round" stroke-linejoin="round" d="M654.3 1480.8C655.8 1475.2 657.5 1440.1 658.0 1416.6C658.5 1393.1 656.7 1359.4 657.0 1340.0C657.3 1320.6 657.8 1311.3 660.0 1300.0C662.2 1288.7 666.2 1283.2 670.5 1272.0"/>
<path fill="none" stroke="#e32b04" stroke-width="8.6" stroke-linecap="round" stroke-linejoin="round" d="M670.5 1272.0C674.8 1260.8 680.8 1243.3 686.0 1233.0C691.2 1222.7 697.1 1207.4 701.6 1210.0"/>
<path fill="none" stroke="#e32b04" stroke-width="9.4" stroke-linecap="round" stroke-linejoin="round" d="M701.6 1210.0C706.1 1212.6 709.4 1232.0 713.0 1248.8C716.6 1265.6 720.0 1291.0 723.0 1311.0C726.0 1331.0 729.0 1354.2 730.7 1369.0C732.4 1383.8 731.8 1379.2 733.0 1400.0"/>
<path fill="none" stroke="#e32b04" stroke-width="9.5" stroke-linecap="round" stroke-linejoin="round" d="M733.0 1400.0C734.2 1420.8 735.7 1465.3 737.8 1494.0C739.9 1522.7 743.3 1549.3 745.6 1572.0C747.9 1594.7 749.9 1618.3 751.5 1630.0C753.1 1641.7 754.0 1648.7 755.3 1642.0C756.6 1635.3 758.0 1608.2 759.5 1590.0C761.0 1571.8 762.2 1548.5 764.0 1533.0C765.8 1517.5 767.8 1508.8 770.0 1497.0C772.2 1485.2 774.5 1472.8 777.0 1462.0C779.5 1451.2 782.3 1441.7 785.0 1432.0C787.7 1422.3 790.3 1412.0 793.0 1404.0C795.7 1396.0 798.2 1390.0 801.0 1384.0C803.8 1378.0 807.1 1372.2 809.5 1368.0C811.9 1363.8 814.0 1350.4 815.3 1358.5"/>
<path fill="none" stroke="#e32b04" stroke-width="8.4" stroke-linecap="round" stroke-linejoin="round" d="M815.3 1358.5C816.6 1366.6 816.9 1402.3 817.5 1416.6C818.1 1430.8 818.5 1420.4 819.0 1444.0C819.5 1467.6 819.9 1520.0 820.2 1558.0C820.6 1596.0 820.7 1641.5 821.1 1672.0C821.5 1702.5 821.7 1723.7 822.4 1741.0C823.1 1758.3 824.1 1766.0 825.4 1775.6C826.7 1785.2 828.5 1792.6 830.0 1798.5C831.5 1804.4 833.0 1808.2 834.5 1811.0C836.0 1813.8 837.5 1816.0 839.1 1815.5C840.7 1815.0 842.5 1811.2 844.0 1808.0C845.5 1804.8 846.4 1803.3 848.3 1796.0C850.1 1788.7 853.7 1776.9 855.1 1764.0C856.5 1751.1 856.5 1733.7 856.7 1718.5C856.9 1703.3 856.2 1683.1 856.3 1672.8C856.4 1662.5 855.9 1662.1 857.4 1656.8"/>
<path fill="none" stroke="#e32b04" stroke-width="7.8" stroke-linecap="round" stroke-linejoin="round" d="M857.4 1656.8C858.9 1651.5 862.7 1646.1 865.4 1640.8C868.1 1635.5 870.9 1631.6 873.4 1624.8C875.9 1618.0 878.2 1606.1 880.3 1599.7C882.4 1593.3 884.5 1588.8 886.0 1586.5C887.5 1584.2 888.3 1584.9 889.0 1586.0C889.7 1587.1 890.0 1586.2 890.2 1593.0C890.5 1599.8 890.0 1617.5 890.5 1627.0C891.0 1636.5 891.7 1642.4 893.3 1650.0C894.9 1657.6 897.4 1664.4 900.1 1672.8C902.8 1681.2 906.4 1690.7 909.3 1700.2C912.2 1709.7 914.8 1721.2 917.3 1730.0C919.8 1738.8 922.0 1743.3 924.1 1752.8C926.2 1762.3 928.0 1775.6 929.9 1787.0C931.8 1798.4 933.8 1809.8 935.6 1821.3C937.5 1832.8 939.9 1845.4 941.0 1856.3C942.1 1867.2 941.5 1875.9 942.4 1886.5C943.3 1897.1 945.1 1906.0 946.2 1920.0C947.3 1934.0 948.8 1945.1 949.2 1970.3C949.6 1995.5 949.2 2044.5 948.7 2071.0C948.2 2097.4 947.2 2116.8 946.2 2129.0C945.2 2141.2 944.4 2139.5 943.0 2144.0C941.6 2148.5 939.4 2152.2 938.0 2156.0C936.6 2159.8 935.2 2163.5 934.5 2167.0C933.8 2170.5 933.9 2175.3 933.8 2177.0"/>
<path fill="#e32b04" d="M416 1112L415.3 1098.6L417.5 1062.7L419.8 1026.9L421.6 991L424.3 955L429.7 919.3L435 901L445 893L452 905L449.4 919.3L445.8 955L440.4 991L436.8 1026.9L434.1 1062.7L431.4 1098.6L428 1118z"/>
<path fill="#e32b04" d="M646 1470L647 1420L648 1357C649 1316 654 1300 668 1275L677 1260C669 1300 667.5 1335 665 1382L662.5 1432L661 1478z"/>
<path fill="#e32b04" d="M752.0 1630.0C752.2 1621.7 752.5 1596.2 753.0 1580.0C753.5 1563.8 754.2 1547.2 755.0 1533.0C755.8 1518.8 756.7 1506.7 758.0 1495.0C759.3 1483.3 760.5 1473.5 763.0 1463.0C765.5 1452.5 769.4 1441.7 773.0 1432.0C776.6 1422.3 780.8 1412.8 784.5 1405.0C788.2 1397.2 791.1 1391.8 795.0 1385.0C798.9 1378.2 804.9 1368.8 807.8 1364.0C810.7 1359.2 810.9 1357.3 812.5 1356.5C814.1 1355.7 817.6 1356.8 817.5 1359.0C817.4 1361.2 813.6 1366.2 811.7 1370.0C809.8 1373.8 807.6 1377.7 806.0 1382.0C804.4 1386.3 803.5 1387.6 802.0 1396.0C800.5 1404.4 798.7 1422.3 797.0 1432.6C795.3 1442.9 794.0 1446.8 792.0 1458.0C790.0 1469.2 787.5 1487.5 785.0 1500.0C782.5 1512.5 779.2 1518.8 776.7 1533.0C774.2 1547.2 772.3 1568.2 770.0 1585.0C767.7 1601.8 765.0 1623.8 763.0 1634.0C761.0 1644.2 758.8 1644.0 758.0 1646.0z"/>
</svg>
<svg class="kr" style="left:8.8px;top:657.5px;width:37.5px;height:18.5px"><text x="-2.3" y="17.2" font-size="20.500" fill="#dedede" stroke="#dedede" stroke-width="0.3">단순</text></svg>
<svg class="kr" style="left:8.8px;top:1664.5px;width:57.5px;height:19.2px"><text x="-1.5" y="17.3" font-size="20.3" fill="#dedede" stroke="#dedede" stroke-width="0.3">거래량</text></svg>
<svg class="kr" style="left:78.8px;top:1664.5px;width:37.5px;height:18.5px"><text x="-2.3" y="17.2" font-size="20.500" fill="#dedede" stroke="#dedede" stroke-width="0.3">단순</text></svg>
<div class="a" style="left:332px;top:2196px;width:366px;height:14px;border-radius:7px;background:#fff"></div>
<div class="a" style="left:0;top:2230px;width:1029px;height:1px;background:#3a4150"></div>
</body></html>
